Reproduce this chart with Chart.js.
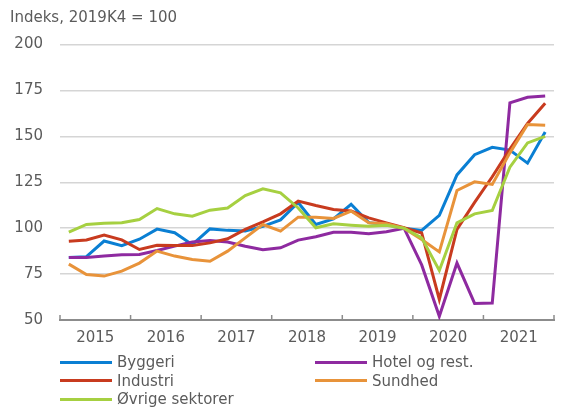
<!DOCTYPE html>
<html>
<head>
<meta charset="utf-8">
<script src="https://cdn.jsdelivr.net/npm/chart.js@4/dist/chart.umd.min.js"></script>
<style>
  html, body { margin: 0; padding: 0; background: #ffffff; }
  #wrap { position: relative; width: 563px; height: 410px; overflow: hidden; }
  #wrap canvas { position: absolute; left: 0; top: 0; }
  #legend { position: absolute; left: 60px; top: 353px; width: 503px;
    display: grid; grid-template-columns: 255px 248px; row-gap: 0px;
    font-family: "DejaVu Sans", sans-serif; font-size: 15px; color: #5b5b5b; }
  .item { display: flex; align-items: center; height: 18.5px; white-space: nowrap; }
  .sw { width: 52px; height: 3px; margin-right: 5px; flex: none; }
</style>
</head>
<body>
<div id="wrap">
  <canvas id="c" width="563" height="410"></canvas>
  <div id="legend"></div>
</div>
<script>
const quarters = ['2015K1','2015K2','2015K3','2015K4','2016K1','2016K2','2016K3','2016K4',
  '2017K1','2017K2','2017K3','2017K4','2018K1','2018K2','2018K3','2018K4',
  '2019K1','2019K2','2019K3','2019K4','2020K1','2020K2','2020K3','2020K4',
  '2021K1','2021K2','2021K3','2021K4'];
const yearLabels = ['2015','2016','2017','2018','2019','2020','2021'];
const yTicks = [50, 75, 100, 125, 150, 175, 200];

const byggeri  = [84, 84.5, 93, 90.5, 94, 99.5, 97.5, 91, 99.6, 98.8, 98.4, 101, 104.5, 114, 102, 105,
                  113, 103, 102, 100, 98.8, 107, 129, 140, 144, 142.5, 135.4, 152.4];
const hotel    = [84, 84, 84.8, 85.5, 85.7, 87.8, 90.2, 92.5, 93.3, 92.5, 90.2, 88.2, 89.3, 93.5, 95.3, 97.8,
                  97.8, 96.9, 98, 100, 80, 52, 81, 59, 59.2, 168.2, 171.3, 171.9];
const industri = [92.9, 93.6, 96.2, 93.6, 88.4, 90.7, 90.6, 90.6, 92, 94.2, 99.3, 103.4, 107.8, 114.7, 112.3, 110.2,
                  109.3, 105.6, 102.9, 100.2, 97.4, 61.2, 99.3, 114, 128, 143, 157, 168];
const sundhed  = [80.4, 74.8, 73.9, 76.6, 81, 87.5, 84.8, 83, 82, 87.5, 94.7, 102, 98.4, 106, 106, 105.3,
                  109.3, 102.9, 102.4, 100, 93.8, 87.1, 120.5, 125.2, 123.8, 141, 156.4, 156];
const oevrige  = [97.8, 102, 102.7, 102.9, 104.7, 110.7, 107.8, 106.5, 109.8, 111, 117.8, 121.4, 119.2, 111, 100.2, 102.4,
                  101.6, 101, 101.6, 100, 94.7, 77, 102.9, 107.8, 109.6, 133.2, 146.4, 150];

const seriesNames  = ['Byggeri', 'Hotel og rest.', 'Industri', 'Sundhed', 'Øvrige sektorer'];
const seriesValues = [byggeri, hotel, industri, sundhed, oevrige];
const seriesColors = ['#0a7fd3', '#8e2aa0', '#c83b1f', '#e8933a', '#a6d041'];

const datasets = seriesNames.map((name, s) => ({
  label: name,
  data: seriesValues[s].map((v, i) => ({ x: i + 0.5, y: v, q: quarters[i] })),
  borderColor: seriesColors[s],
  backgroundColor: seriesColors[s],
  borderWidth: 3,
  pointRadius: 0,
  tension: 0,
  fill: false,
  order: seriesNames.length - s
}));

const textColor = '#5b5b5b';
const fontFamily = '"DejaVu Sans", sans-serif';

const yearTicks = {
  id: 'yearTicks',
  afterDraw(chart) {
    const xs = chart.scales.x, ys = chart.scales.y;
    const ctx = chart.ctx;
    const yb = ys.getPixelForValue(50);
    ctx.save();
    ctx.strokeStyle = '#8c8c8c';
    ctx.lineWidth = 1.5;
    for (let k = 0; k <= yearLabels.length; k++) {
      const px = Math.min(xs.getPixelForValue(k * 4), chart.width - 1);
      ctx.beginPath();
      ctx.moveTo(px, yb);
      ctx.lineTo(px, yb - 5);
      ctx.stroke();
    }
    ctx.restore();
  }
};

new Chart(document.getElementById('c'), {
  type: 'line',
  data: { datasets },
  plugins: [yearTicks],
  options: {
    responsive: false,
    animation: false,
    layout: { padding: { left: 10, right: 0, top: 0, bottom: 54 } },
    plugins: {
      legend: { display: false },
      tooltip: { enabled: false },
      title: {
        display: true,
        text: 'Indeks, 2019K4 = 100',
        align: 'start',
        color: textColor,
        font: { family: fontFamily, size: 15, weight: 'normal' },
        padding: { top: 9, bottom: 17.5 }
      }
    },
    scales: {
      x: {
        type: 'linear',
        min: 0,
        max: quarters.length,
        grid: { display: true, drawOnChartArea: false, drawTicks: false },
        border: { display: true, color: '#8c8c8c', width: 2 },
        ticks: {
          stepSize: 2,
          autoSkip: false,
          maxRotation: 0,
          padding: 9,
          color: textColor,
          font: { family: fontFamily, size: 15 },
          callback: (v) => (v % 4 === 2 ? yearLabels[(v - 2) / 4] : '')
        }
      },
      y: {
        min: yTicks[0],
        max: yTicks[yTicks.length - 1],
        afterFit: (scale) => { scale.width = 50; },
        afterBuildTicks: (scale) => { scale.ticks = yTicks.map(v => ({ value: v })); },
        grid: {
          drawTicks: false,
          lineWidth: 1.5,
          color: (ctx) => (ctx.tick && ctx.tick.value === 50 ? 'rgba(0,0,0,0)' : '#d5d5d5')
        },
        border: { display: false },
        ticks: {
          padding: 17,
          color: textColor,
          font: { family: fontFamily, size: 15 }
        }
      }
    }
  }
});

const legendEl = document.getElementById('legend');
datasets.forEach(ds => {
  const item = document.createElement('div');
  item.className = 'item';
  const sw = document.createElement('span');
  sw.className = 'sw';
  sw.style.background = ds.borderColor;
  const tx = document.createElement('span');
  tx.textContent = ds.label;
  item.appendChild(sw);
  item.appendChild(tx);
  legendEl.appendChild(item);
});
</script>
</body>
</html>
